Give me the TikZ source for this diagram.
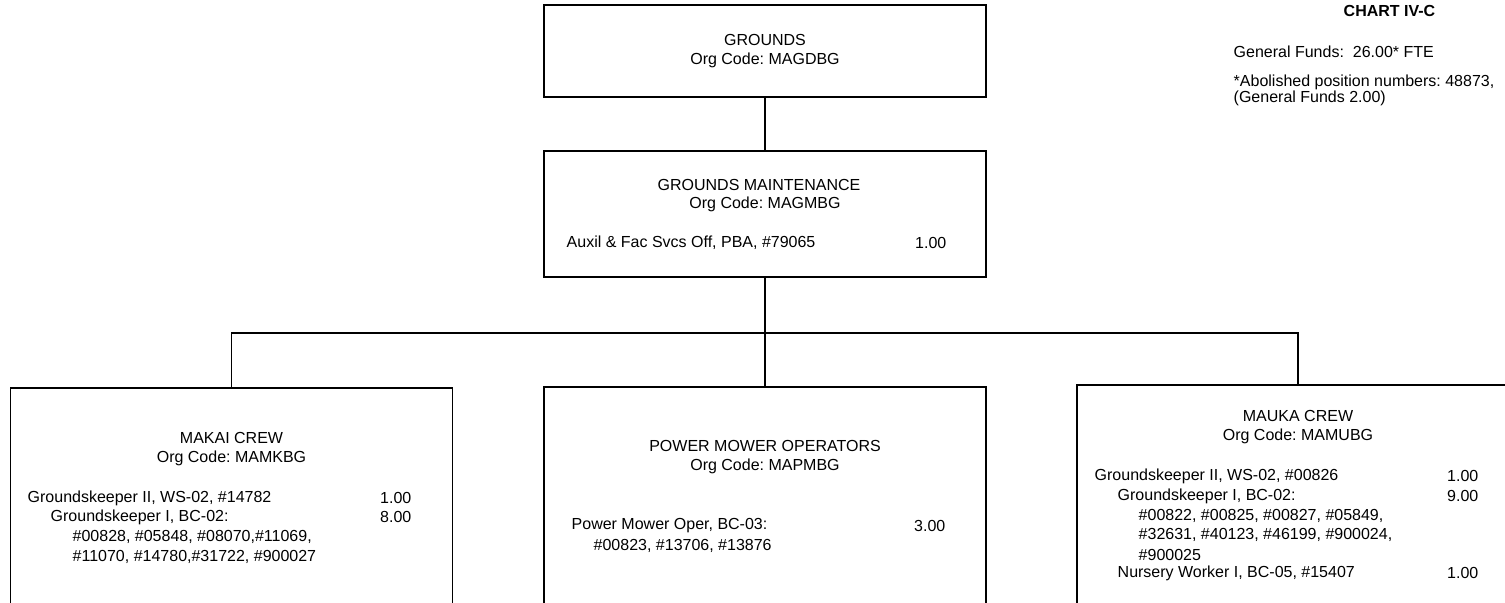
\documentclass[tikz,border=0pt]{standalone}
\usepackage{fontspec}
\setmainfont{Liberation Sans}
\usetikzlibrary{positioning}
\frenchspacing

\begin{document}
\begin{tikzpicture}[x=0.5pt, y=-0.5pt, line width=0.7pt,
    unit/.style={draw, minimum width=221pt, inner sep=0pt},
    txt/.style={inner sep=0pt, font=\fontsize{8}{9.75}\selectfont},
    head/.style={txt, align=center},
    post/.style={txt, anchor=west},
    fte/.style={txt, anchor=east}]
    \useasboundingbox (0,0) rectangle (1505,603);
    \clip (0,0) rectangle (1505,603);

    % boxes
    \node[unit, minimum height=46pt] (grounds) at (765,51) {};
    \node[unit, minimum height=63pt] (maint) at (765,214) {};
    \node[unit, minimum height=130pt] (makai) at (231.5,518) {};
    \node[unit, minimum height=130pt] (mower) at (765,517) {};
    \node[unit, minimum height=130pt] (mauka) at (1298,515) {};

    \coordinate (branch) at (765,333);

    % connectors
    \draw (grounds.south) -- (maint.north);
    \draw (maint.south) -- (branch);
    \draw (branch) -- (mower.north);
    \draw (makai.north) |- (branch) -| (mauka.north);

    % headings
    \node[head] (grounds-h) at (765,51) {GROUNDS\\Org Code: MAGDBG};
    \node[head] (maint-h1) at (759,185) {GROUNDS MAINTENANCE};
    \node[head] (maint-h2) at (765,204) {Org Code: MAGMBG};
    \node[head] (makai-h) at (231.5,449) {MAKAI CREW\\Org Code: MAMKBG};
    \node[head] (mower-h) at (765,457) {POWER MOWER OPERATORS\\Org Code: MAPMBG};
    \node[head] (mauka-h) at (1298,427) {MAUKA CREW\\Org Code: MAMUBG};

    % positions
    \node[post] (maint-p1) at (566,243) {Auxil \& Fac Svcs Off, PBA, \#79065};
    \node[fte] (maint-f1) at (947,243) {1.00};

    \foreach \px/\py/\ptext [count=\i] in {
        27/498/{Groundskeeper II, WS-02, \#14782},
        50/517/{Groundskeeper I, BC-02:},
        72/537/{\#00828, \#05848, \#08070,\#11069,},
        72/557/{\#11070, \#14780,\#31722, \#900027}}
      \node[post] (makai-p\i) at (\px,\py) {\ptext};
    \node[fte] (makai-f1) at (412,498) {1.00};
    \node[fte] (makai-f2) at (412,517) {8.00};

    \node[post] (mower-p1) at (571,526) {Power Mower Oper, BC-03:};
    \node[post] (mower-p2) at (593,546) {\#00823, \#13706, \#13876};
    \node[fte] (mower-f1) at (946,526) {3.00};

    \foreach \px/\py/\ptext [count=\i] in {
        1094/476/{Groundskeeper II, WS-02, \#00826},
        1117/496/{Groundskeeper I, BC-02:},
        1138/516/{\#00822, \#00825, \#00827, \#05849,},
        1138/535/{\#32631, \#40123, \#46199, \#900024,},
        1138/555/{\#900025},
        1117/573/{Nursery Worker I, BC-05, \#15407}}
      \node[post] (mauka-p\i) at (\px,\py) {\ptext};
    \node[fte] (mauka-f1) at (1479,476) {1.00};
    \node[fte] (mauka-f2) at (1479,496) {9.00};
    \node[fte] (mauka-f3) at (1479,573) {1.00};

    % notes
    \node[txt, anchor=west, font=\fontsize{8}{9.75}\selectfont\bfseries] (chart) at (1343,11) {CHART IV-C};
    \node[post] (funds) at (1233,52) {General Funds:\ \ 26.00* FTE};
    \node[post] (abolished) at (1233,82) {*Abolished position numbers: 48873,};
    \node[post] (abolished2) at (1233,98) {(General Funds 2.00)};
\end{tikzpicture}
\end{document}
